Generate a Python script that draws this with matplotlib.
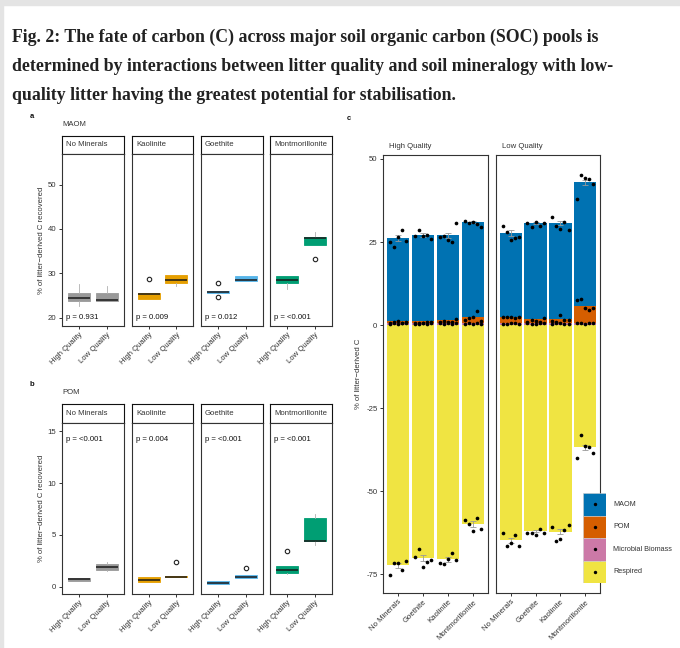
import matplotlib
matplotlib.use('Agg')
import matplotlib.pyplot as plt
import numpy as np
from matplotlib.patches import Rectangle

plt.rcParams['font.family'] = ['Liberation Sans', 'DejaVu Sans']
plt.rcParams['axes.unicode_minus'] = False

# ---------------- data ----------------
minerals_ab = ["No Minerals", "Kaolinite", "Goethite", "Montmorillonite"]
quality = ["High Quality", "Low Quality"]
mineral_colors = ["#999999", "#E69F00", "#56B4E9", "#009E73"]

# MAOM boxplot stats: per mineral [high, low]
maom_med = [[24.5, 23.9], [25.3, 28.5], [25.8, 28.5], [28.5, 37.9]]
maom_q1 = [[23.8, 23.8], [24.2, 27.9], [25.6, 28.3], [27.9, 36.3]]
maom_q3 = [[25.6, 25.6], [25.6, 29.7], [25.9, 29.3], [29.3, 38.1]]
maom_lo = [[22.5, 23.8], [24.2, 27.2], [25.6, 28.3], [26.4, 36.3]]
maom_hi = [[27.6, 27.2], [25.6, 29.7], [25.9, 29.3], [29.3, 39.3]]
maom_out = [[[], []], [[28.7], []], [[27.8, 24.6], []], [[], [33.3]]]
maom_p = ["p = 0.931", "p = 0.009", "p = 0.012", "p = <0.001"]

# POM boxplot stats
pom_med = [[0.70, 1.87], [0.65, 0.96], [0.40, 0.96], [1.61, 4.40]]
pom_q1 = [[0.55, 1.60], [0.42, 0.93], [0.29, 0.87], [1.29, 4.38]]
pom_q3 = [[0.84, 2.19], [0.90, 1.00], [0.55, 1.16], [1.97, 6.60]]
pom_lo = [[0.55, 1.50], [0.42, 0.93], [0.29, 0.87], [1.20, 4.00]]
pom_hi = [[0.84, 2.40], [0.90, 1.00], [0.55, 1.16], [1.97, 7.00]]
pom_out = [[[], []], [[], [2.41]], [[], [1.77]], [[3.47], []]]
pom_p = ["p = <0.001", "p = 0.004", "p = <0.001", "p = <0.001"]

# Panel c (order: No Minerals, Goethite, Kaolinite, Montmorillonite)
minerals_c = ["No Minerals", "Goethite", "Kaolinite", "Montmorillonite"]
pools = ["MAOM", "POM", "Microbial Biomass", "Respired"]
pool_colors = ["#0072B2", "#D55E00", "#CC79A7", "#F0E442"]

micro_bar = {"High Quality": [0.6, 0.6, 0.6, 0.6], "Low Quality": [0.6, 0.6, 0.6, 0.6]}
pom_bar = {"High Quality": [0.6, 0.5, 0.8, 1.7], "Low Quality": [1.9, 1.2, 1.2, 5.2]}
maom_bar = {"High Quality": [25.0, 25.9, 25.6, 28.7], "Low Quality": [25.2, 29.0, 28.9, 37.2]}
resp_bar = {"High Quality": [-72.4, -70.2, -70.6, -59.9], "Low Quality": [-64.8, -62.0, -62.2, -36.8]}
maom_se = {"High Quality": [1.0, 0.6, 0.8, 0.4], "Low Quality": [0.8, 0.3, 0.6, 0.8]}
resp_se = {"High Quality": [0.8, 1.0, 0.7, 0.8], "Low Quality": [0.8, 0.4, 0.8, 0.8]}

maom_dots = {
    "High Quality": [[25.1, 23.6, 26.4, 28.6, 25.4], [26.8, 28.6, 26.9, 27.0, 25.8],
                     [26.4, 26.8, 25.6, 24.9, 30.6], [31.4, 30.8, 31.1, 30.4, 29.4]],
    "Low Quality": [[29.9, 28.1, 25.6, 26.2, 26.4], [30.8, 29.4, 31.0, 29.8, 30.6],
                    [32.6, 29.8, 29.0, 31.1, 28.5], [37.8, 45.1, 44.3, 44.0, 42.5]],
}
pom_dots = {
    "High Quality": [[0.6, 0.9, 1.1, 0.7, 0.8], [0.5, 0.7, 0.6, 0.9, 0.8],
                     [0.9, 1.1, 0.8, 1.0, 1.8], [1.6, 2.0, 2.3, 4.1, 1.3]],
    "Low Quality": [[2.3, 2.5, 2.4, 2.2, 2.5], [1.0, 1.5, 1.2, 0.8, 2.2],
                    [1.2, 0.9, 3.1, 1.5, 1.4], [7.6, 7.9, 5.1, 4.6, 5.0]],
}
micro_dots = {
    "High Quality": [[0.3, 0.5, 0.4, 0.6, 0.5], [0.4, 0.3, 0.5, 0.4, 0.6],
                     [0.5, 0.4, 0.6, 0.3, 0.5], [0.4, 0.5, 0.3, 0.6, 0.4]],
    "Low Quality": [[0.4, 0.3, 0.6, 0.5, 0.4], [0.5, 0.4, 0.3, 0.6, 0.5],
                    [0.4, 0.6, 0.5, 0.3, 0.4], [0.6, 0.5, 0.4, 0.6, 0.5]],
}
resp_dots = {
    "High Quality": [[-75.2, -71.6, -71.6, -73.7, -71.2], [-69.9, -67.5, -72.9, -71.3, -70.7],
                     [-71.6, -71.9, -70.6, -68.6, -70.7], [-58.6, -59.9, -61.9, -58.1, -61.5]],
    "Low Quality": [[-62.6, -66.6, -65.5, -63.2, -66.6], [-62.6, -62.6, -63.3, -61.3, -62.6],
                    [-60.7, -65.1, -64.5, -61.6, -60.2], [-39.9, -33.1, -36.3, -36.7, -38.6]],
}

# ---------------- figure ----------------
W, H = 680, 648
fig = plt.figure(figsize=(6.8, 6.48), dpi=100)


def rect(x0, y0, x1, y1):
    return [x0 / W, 1 - y1 / H, (x1 - x0) / W, (y1 - y0) / H]


def fx(x):
    return x / W


def fy(y):
    return 1 - y / H


# page border strips
fig.patches.append(Rectangle((0, fy(5)), 1, 5 / H, transform=fig.transFigure, color="#e4e4e4", zorder=0))
fig.patches.append(Rectangle((0, 0), 3 / W, 1, transform=fig.transFigure, color="#e4e4e4", zorder=0))

# Title
title_lines = ["Fig. 2: The fate of carbon (C) across major soil organic carbon (SOC) pools is",
               "determined by interactions between litter quality and soil mineralogy with low-",
               "quality litter having the greatest potential for stabilisation."]
for i, line in enumerate(title_lines):
    fig.text(fx(12), fy(41.5 + 29.3 * i), line, fontsize=12.8, fontweight="bold",
             family=["Liberation Serif", "DejaVu Serif"], va="baseline", ha="left", color="#222222")

TXT = 5.6
DARK = "#333333"
panel_x = [(62, 124), (132, 193), (201, 263), (270, 332)]


def style_axes(ax):
    for s in ax.spines.values():
        s.set_color(DARK)
        s.set_linewidth(0.8)
    ax.tick_params(axis="both", length=2.5, width=0.7, color=DARK, labelsize=TXT,
                   labelcolor=DARK, pad=1.5)


def box_row(y_top_strip, y_top, y_bot, meds, q1s, q3s, los, his, outs, pvals, ylim, yticks, p_at_top,
            ylabel):
    for j, (x0, x1) in enumerate(panel_x):
        # strip
        sax = fig.add_axes(rect(x0, y_top_strip, x1, y_top))
        sax.set_xticks([]); sax.set_yticks([])
        for s in sax.spines.values():
            s.set_color("#111111"); s.set_linewidth(0.8)
        sax.text(4 / (x1 - x0), 0.5, minerals_ab[j], fontsize=TXT, va="center", ha="left",
                 transform=sax.transAxes, color=DARK)
        ax = fig.add_axes(rect(x0, y_top, x1, y_bot))
        stats = []
        for k in range(2):
            stats.append(dict(med=meds[j][k], q1=q1s[j][k], q3=q3s[j][k], whislo=los[j][k],
                              whishi=his[j][k], fliers=outs[j][k]))
        col = mineral_colors[j]
        ax.bxp(stats, positions=[1, 2], widths=0.8, patch_artist=True, showfliers=True,
               boxprops=dict(facecolor=col, edgecolor=col, linewidth=0.6),
               medianprops=dict(color="#1a1a1a", linewidth=1.1),
               whiskerprops=dict(color="#b0b0b0", linewidth=0.6),
               capprops=dict(linewidth=0),
               flierprops=dict(marker="o", markerfacecolor="white", markeredgecolor="#222222",
                               markersize=3.2, markeredgewidth=0.8))
        ax.set_xlim(0.4, 2.6)
        ax.set_ylim(*ylim)
        ax.set_yticks(yticks)
        ax.set_xticks([1, 2])
        ax.set_xticklabels(quality, rotation=45, ha="right", rotation_mode="anchor")
        style_axes(ax)
        if j > 0:
            ax.tick_params(axis="y", left=False, labelleft=False)
        if p_at_top:
            ax.text(0.06, 0.905, pvals[j], transform=ax.transAxes, fontsize=TXT, va="center",
                    ha="left", color="#111111")
        else:
            ax.text(0.06, 0.05, pvals[j], transform=ax.transAxes, fontsize=TXT, va="center",
                    ha="left", color="#111111")
        if j == 0:
            ax.set_ylabel(ylabel, fontsize=TXT, color=DARK, labelpad=2)


# Panel a
fig.text(fx(30), fy(117), "a", fontsize=5.5, fontweight="bold", va="center", color="#111111")
fig.text(fx(62), fy(125), "MAOM", fontsize=TXT, va="center", color=DARK)
box_row(136, 154, 326, maom_med, maom_q1, maom_q3, maom_lo, maom_hi, maom_out, maom_p,
        (18.1, 56.9), [20, 30, 40, 50], False, "% of litter\u2212derived C recovered")

# Panel b
fig.text(fx(30), fy(385), "b", fontsize=5.5, fontweight="bold", va="center", color="#111111")
fig.text(fx(62), fy(393), "POM", fontsize=TXT, va="center", color=DARK)
box_row(404, 423, 594, pom_med, pom_q1, pom_q3, pom_lo, pom_hi, pom_out, pom_p,
        (-0.7, 15.8), [0, 5, 10, 15], True, "% of litter\u2212derived C recovered")

# Panel c
fig.text(fx(347), fy(118), "c", fontsize=5.5, fontweight="bold", va="center", color="#111111")
c_x = [(383, 488), (496, 600)]
offsets = np.linspace(-0.33, 0.33, 5)
pos = np.arange(1, 5)
for j, (x0, x1) in enumerate(c_x):
    q = quality[j]
    ax = fig.add_axes(rect(x0, 155, x1, 593))
    mic = np.array(micro_bar[q]); pm = np.array(pom_bar[q]); ma = np.array(maom_bar[q])
    rs = np.array(resp_bar[q])
    ax.bar(pos, mic, width=0.9, color=pool_colors[2], zorder=2)
    ax.bar(pos, pm, width=0.9, bottom=mic, color=pool_colors[1], zorder=2)
    ax.bar(pos, ma, width=0.9, bottom=mic + pm, color=pool_colors[0], zorder=2)
    ax.bar(pos, rs, width=0.9, color=pool_colors[3], zorder=2)
    top = mic + pm + ma
    ax.errorbar(pos, top, yerr=maom_se[q], fmt="none", ecolor="#999999", elinewidth=0.6,
                capsize=2.5, capthick=0.6, zorder=3)
    ax.errorbar(pos, rs, yerr=resp_se[q], fmt="none", ecolor="#999999", elinewidth=0.6,
                capsize=2.5, capthick=0.6, zorder=3)
    for i in range(4):
        for dd in (maom_dots, pom_dots, micro_dots, resp_dots):
            ax.scatter(pos[i] + offsets, dd[q][i], s=7, color="black", zorder=4, linewidths=0)
    ax.set_xlim(0.4, 4.6)
    ax.set_ylim(-80.7, 51.2)
    ax.set_yticks([50, 25, 0, -25, -50, -75])
    ax.set_xticks(pos)
    ax.set_xticklabels(minerals_c, rotation=45, ha="right", rotation_mode="anchor")
    style_axes(ax)
    if j > 0:
        ax.tick_params(axis="y", left=False, labelleft=False)
    else:
        ax.set_ylabel("% of litter\u2212derived C", fontsize=TXT, color=DARK, labelpad=3)
    fig.text(fx(x0 + 6), fy(146), q, fontsize=TXT, va="center", ha="left", color=DARK)

# Legend for panel c
lax = fig.add_axes(rect(583, 493, 606, 583))
lax.set_xlim(0, 1); lax.set_ylim(0, 4)
for k in range(4):
    lax.add_patch(Rectangle((0, 3 - k), 1, 1, facecolor=pool_colors[k], edgecolor="#cccccc",
                            linewidth=0.4))
    lax.scatter([0.5], [3.5 - k], s=6, color="black", zorder=3, linewidths=0)
    fig.text(fx(613), fy(493 + 11.25 + 22.5 * k), pools[k], fontsize=5.2, va="center",
             ha="left", color=DARK)
lax.axis("off")

fig.savefig("out.png", dpi=100)
